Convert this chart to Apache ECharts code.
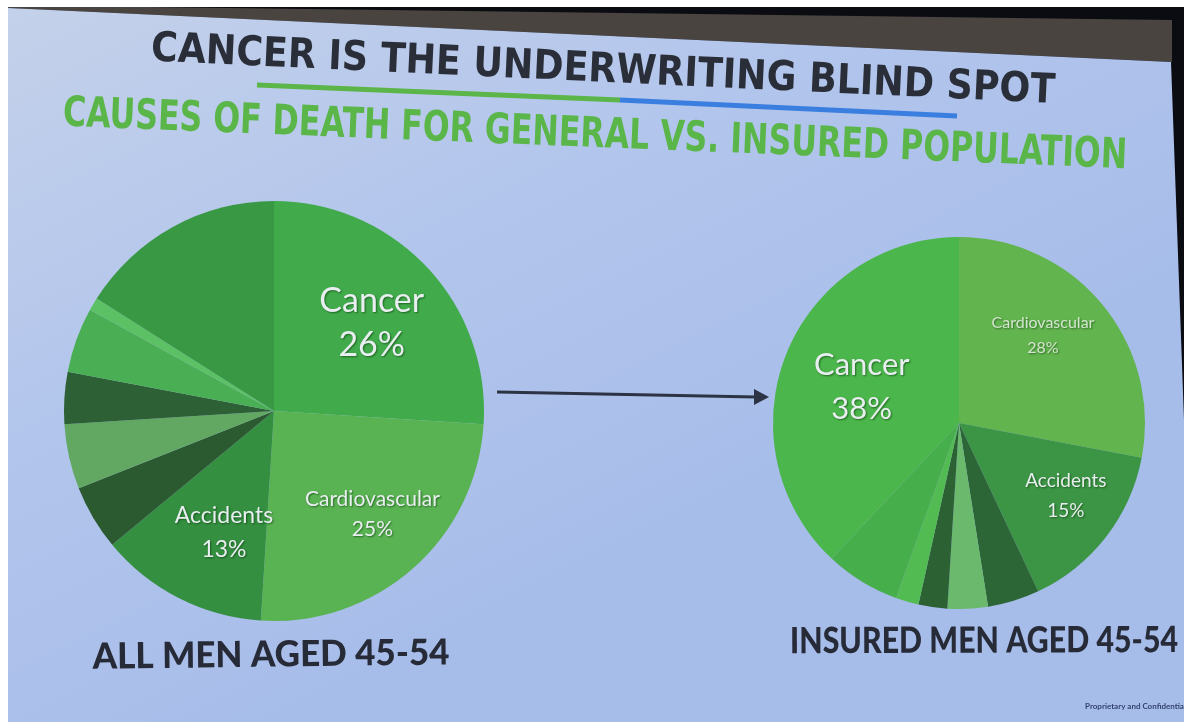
<!DOCTYPE html>
<html>
<head>
<meta charset="utf-8">
<script src="https://cdn.jsdelivr.net/npm/echarts@6/dist/echarts.min.js"></script>
<style>
html,body{margin:0;padding:0;background:#ffffff;}
#chart{width:1184px;height:722px;}
</style>
</head>
<body>
<div id="chart"></div>
<script>
// ---------- data ----------
const titleText = 'CANCER IS THE UNDERWRITING BLIND SPOT';
const subtitleText = 'CAUSES OF DEATH FOR GENERAL VS. INSURED POPULATION';
const leftCaption = 'ALL MEN AGED 45-54';
const rightCaption = 'INSURED MEN AGED 45-54';
const footerText = 'Proprietary and Confidential';

// General population (clockwise from 12 o'clock)
const generalCauses = ['Cancer', 'Cardiovascular', 'Accidents', 'Other 1', 'Other 2', 'Other 3', 'Other 4', 'Other 5', 'Other 6'];
const generalShares = [26, 25, 13, 5, 5, 4, 5, 1, 16];
const generalLabelled = [true, true, true, false, false, false, false, false, false];

// Insured population (clockwise from 12 o'clock)
const insuredCauses = ['Cardiovascular', 'Accidents', 'Other 1', 'Other 2', 'Other 3', 'Other 4', 'Other 5', 'Cancer'];
const insuredShares = [28, 15, 4.5, 3.5, 2.5, 2, 6.5, 38];
const insuredLabelled = [true, true, false, false, false, false, false, true];

// ---------- styles ----------
const generalColors = ['#41ab4b', '#5ab353', '#348f40', '#2b5a31', '#62a863', '#2d6034', '#4aae55', '#5cc064', '#389844'];
const insuredColors = ['#62b44e', '#3c9544', '#2d6636', '#6ab96c', '#2c6134', '#52bb52', '#46ae4a', '#4bb64b'];
// label font sizes / offsets (px) per slice
const generalLabelStyle = [
  {size: 34, lh: 44, dx: 19, dy: -14},
  {size: 21, lh: 30, dx: 27, dy: 22},
  {size: 23, lh: 34, dx: -1, dy: 25}
];
const insuredLabelStyle = {
  0: {size: 16, lh: 25, dx: 10, dy: -26, color: '#d5e6cf'},
  1: {size: 19, lh: 30, dx: 31, dy: 14},
  7: {size: 31, lh: 44, dx: -8, dy: -1}
};

function buildData(names, values, labelled, colors, styles) {
  return names.map((n, i) => {
    const st = styles[i];
    return {
      name: n,
      value: values[i],
      itemStyle: {color: colors[i]},
      label: labelled[i] ? {
        show: true,
        fontSize: st.size,
        lineHeight: st.lh,
        color: st.color || '#e9eef0'
      } : {show: false}
    };
  });
}

function measure(text, font) {
  const c = document.createElement('canvas').getContext('2d');
  c.font = font;
  return c.measureText(text).width;
}

const titleFamily = '"Liberation Sans Narrow", "DejaVu Sans Condensed", sans-serif';
const capFamily = 'Lato, "Open Sans", sans-serif';

function fitText(text, x, y, size, weight, family, color, targetW, rot) {
  const w = measure(text, weight + ' ' + size + 'px ' + family);
  const s = targetW / w;
  return {
    type: 'text', x: x, y: y, rotation: rot, scaleX: s, scaleY: 1,
    style: {text: text, fill: color, font: weight + ' ' + size + 'px ' + family, align: 'center', verticalAlign: 'middle'}
  };
}

const chart = echarts.init(document.getElementById('chart'), null, {renderer: 'canvas'});

const labelCommon = {
  position: 'inside',
  formatter: '{b}\n{c}%',
  fontFamily: capFamily,
  textShadowColor: 'rgba(0,40,0,0.55)',
  textShadowBlur: 2,
  textShadowOffsetX: 1,
  textShadowOffsetY: 1
};

const option = {
  backgroundColor: '#ffffff',
  animation: false,
  graphic: {
    elements: [
      // photo frame: dark surroundings
      {type: 'rect', shape: {x: 8, y: 7, width: 1176, height: 715}, style: {fill: '#0b0b12'}},
      {type: 'polygon', shape: {points: [[150, 7], [1172, 20], [1172, 62], [8, 8], [8, 7]]}, style: {fill: '#49443f'}},
      // slide
      {type: 'polygon', shape: {points: [[8, 8], [1171, 62], [1184, 420], [1184, 722], [8, 722]]},
        style: {fill: new echarts.graphic.LinearGradient(0, 0, 0.3, 1, [
          {offset: 0, color: '#c4d1ea'},
          {offset: 0.5, color: '#b2c5ec'},
          {offset: 1, color: '#a6bce9'}
        ])}},
      // title underline
      {type: 'line', shape: {x1: 257, y1: 85, x2: 620, y2: 100}, style: {stroke: '#5cb548', lineWidth: 5}},
      {type: 'line', shape: {x1: 620, y1: 100, x2: 957, y2: 116}, style: {stroke: '#3a7fe0', lineWidth: 5}},
      // title & subtitle
      fitText(titleText, 603, 71, 41, 'bold', titleFamily, '#2a2e38', 905, -0.047),
      fitText(subtitleText, 595, 136, 42, 'bold', titleFamily, '#5ab648', 1065, -0.040),
      // arrow
      {type: 'line', shape: {x1: 497, y1: 392, x2: 756, y2: 397}, style: {stroke: '#2c3344', lineWidth: 3}},
      {type: 'polygon', shape: {points: [[754, 389], [769, 397], [754, 405]]}, style: {fill: '#2c3344'}},
      // captions
      fitText(leftCaption, 271, 655, 36, '900', capFamily, '#272b38', 357, 0.012),
      fitText(rightCaption, 984, 641, 36, '900', capFamily, '#272b38', 388, 0.003),
      // footer
      {type: 'text', x: 1085, y: 706, style: {text: footerText, fill: '#34446e', font: 'bold 8px ' + capFamily, align: 'left', verticalAlign: 'middle'}},
      // white photo margins
      {type: 'rect', shape: {x: 0, y: 0, width: 1184, height: 7}, style: {fill: '#ffffff'}},
      {type: 'rect', shape: {x: 0, y: 0, width: 8, height: 722}, style: {fill: '#ffffff'}}
    ]
  },
  series: [
    {
      type: 'pie',
      center: [274, 411],
      radius: 210,
      startAngle: 90,
      clockwise: true,
      silent: true,
      label: labelCommon,
      labelLine: {show: false},
      labelLayout: function (p) {
        const st = generalLabelStyle[p.dataIndex];
        return st ? {dx: st.dx, dy: st.dy} : {};
      },
      data: buildData(generalCauses, generalShares, generalLabelled, generalColors, generalLabelStyle)
    },
    {
      type: 'pie',
      center: [959, 423],
      radius: 186,
      startAngle: 90,
      clockwise: true,
      silent: true,
      label: labelCommon,
      labelLine: {show: false},
      labelLayout: function (p) {
        const st = insuredLabelStyle[p.dataIndex];
        return st ? {dx: st.dx, dy: st.dy} : {};
      },
      data: buildData(insuredCauses, insuredShares, insuredLabelled, insuredColors, insuredLabelStyle)
    }
  ]
};
chart.setOption(option);
</script>
</body>
</html>
